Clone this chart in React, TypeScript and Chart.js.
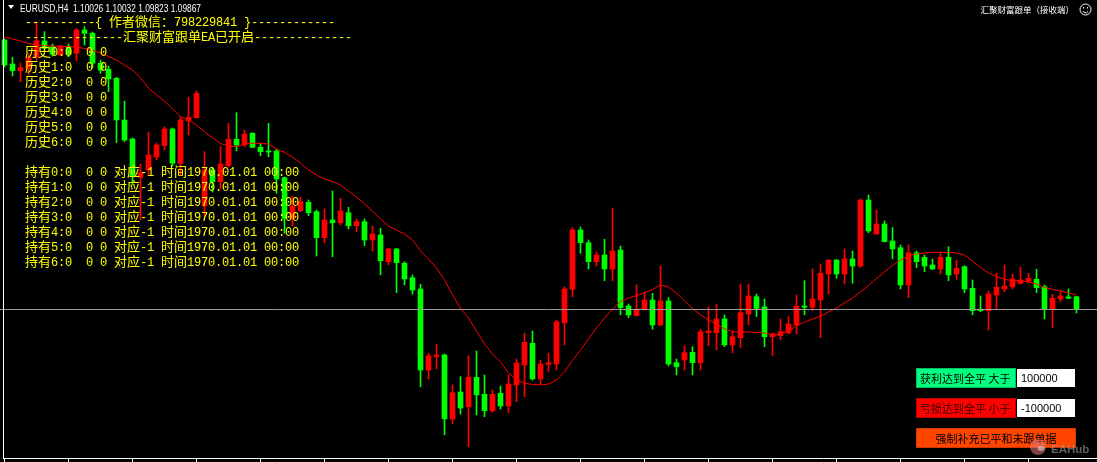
import React, { useEffect, useRef } from "react";
import { Chart, registerables } from "chart.js";

Chart.register(...registerables);

// ---------------- data ----------------
const symbolLabel = "EURUSD,H4";

const opens = [
  1.13236, 1.12936, 1.12852, 1.12882, 1.13020, 1.13224, 1.13152, 1.13049, 1.13152, 1.13070,
  1.13361, 1.13320, 1.12945, 1.12870, 1.12757, 1.12236, 1.11999, 1.11520, 1.11611, 1.11774,
  1.11915, 1.12124, 1.11695, 1.12227, 1.12265, 1.11161, 1.11611, 1.11465, 1.11665, 1.11995,
  1.11924, 1.12070, 1.11895, 1.11849, 1.11849, 1.11515, 1.11007, 1.11102, 1.11207, 1.11090,
  1.10765, 1.10986, 1.10952, 1.11077, 1.10915, 1.10965, 1.10736, 1.10799, 1.10465, 1.10624,
  1.10445, 1.10265, 1.10124, 1.09111, 1.09277, 1.09299, 1.08499, 1.08836, 1.08652, 1.09020,
  1.08807, 1.08602, 1.08820, 1.08661, 1.08924, 1.09174, 1.09445, 1.08999, 1.09180, 1.09186,
  1.09702, 1.10120, 1.10861, 1.10702, 1.10465, 1.10549, 1.10374, 1.10611, 1.09911, 1.09790,
  1.09870, 1.09986, 1.09674, 1.09974, 1.09202, 1.09236, 1.09332, 1.09202, 1.09577, 1.09577,
  1.09749, 1.09424, 1.09515, 1.09811, 1.10027, 1.09902, 1.09527, 1.09540, 1.09577, 1.09674,
  1.09911, 1.09895, 1.09986, 1.10311, 1.10486, 1.10311, 1.10499, 1.10411, 1.11236, 1.10811,
  1.10936, 1.10724, 1.10640, 1.10174, 1.10577, 1.10520, 1.10424, 1.10374, 1.10520, 1.10311,
  1.10402, 1.10132, 1.09870, 1.09852, 1.10049, 1.10124, 1.10152, 1.10195, 1.10224, 1.10245,
  1.10152, 1.09870, 1.09999, 1.10024, 1.10026,
];

const highs = [
  1.13249, 1.13020, 1.12949, 1.13074, 1.13465, 1.13340, 1.13186, 1.13174, 1.13186, 1.13382,
  1.13402, 1.13336, 1.12986, 1.12911, 1.12770, 1.12474, 1.12011, 1.11686, 1.12086, 1.11949,
  1.12152, 1.12136, 1.12277, 1.12520, 1.12599, 1.11840, 1.11636, 1.11902, 1.12195, 1.12327,
  1.12111, 1.12077, 1.11945, 1.12195, 1.11870, 1.11524, 1.11286, 1.11270, 1.11236, 1.11111,
  1.11124, 1.11349, 1.11257, 1.11145, 1.10999, 1.10999, 1.10911, 1.10882, 1.10630, 1.10632,
  1.10465, 1.10299, 1.10182, 1.09320, 1.09436, 1.09311, 1.08924, 1.09027, 1.09290, 1.09349,
  1.09049, 1.08861, 1.08911, 1.09049, 1.09249, 1.09570, 1.09599, 1.09236, 1.09320, 1.09736,
  1.10152, 1.10890, 1.10899, 1.10736, 1.10586, 1.10745, 1.11136, 1.10661, 1.09936, 1.10174,
  1.10090, 1.10070, 1.10411, 1.10015, 1.09249, 1.09415, 1.09402, 1.09620, 1.09902, 1.09936,
  1.09799, 1.09590, 1.10186, 1.10186, 1.10061, 1.09999, 1.09574, 1.09749, 1.09777, 1.10049,
  1.10227, 1.10374, 1.10436, 1.10492, 1.10492, 1.10624, 1.10599, 1.11249, 1.11299, 1.11111,
  1.10974, 1.10890, 1.10674, 1.10674, 1.10599, 1.10549, 1.10499, 1.10582, 1.10652, 1.10486,
  1.10415, 1.10236, 1.10036, 1.10099, 1.10320, 1.10424, 1.10311, 1.10395, 1.10320, 1.10370,
  1.10174, 1.10057, 1.10099, 1.10124, 1.10032,
];

const lows = [
  1.12899, 1.12786, 1.12715, 1.12799, 1.12986, 1.13090, 1.13036, 1.13036, 1.13027, 1.12977,
  1.13174, 1.12886, 1.12820, 1.12590, 1.11952, 1.11965, 1.11424, 1.10986, 1.11549, 1.11736,
  1.11861, 1.11661, 1.11549, 1.12049, 1.12261, 1.11024, 1.11336, 1.11374, 1.11649, 1.11852,
  1.11902, 1.11890, 1.11790, 1.11777, 1.11320, 1.10820, 1.10911, 1.11090, 1.11040, 1.10536,
  1.10702, 1.10527, 1.10924, 1.10874, 1.10840, 1.10665, 1.10599, 1.10299, 1.10424, 1.10077,
  1.10174, 1.10061, 1.08902, 1.08999, 1.09124, 1.08299, 1.08436, 1.08561, 1.08152, 1.08549,
  1.08527, 1.08582, 1.08624, 1.08577, 1.08715, 1.08777, 1.08986, 1.08936, 1.09090, 1.09111,
  1.09424, 1.10027, 1.10570, 1.10374, 1.10411, 1.10227, 1.10227, 1.09799, 1.09765, 1.09786,
  1.09861, 1.09620, 1.09667, 1.09161, 1.09049, 1.09111, 1.09049, 1.09111, 1.09415, 1.09361,
  1.09402, 1.09327, 1.09390, 1.09674, 1.09777, 1.09402, 1.09290, 1.09486, 1.09561, 1.09561,
  1.09799, 1.09852, 1.09515, 1.10061, 1.10257, 1.10186, 1.10195, 1.10395, 1.10827, 1.10805,
  1.10711, 1.10499, 1.10124, 1.10015, 1.10390, 1.10340, 1.10367, 1.10311, 1.10227, 1.10245,
  1.10077, 1.09799, 1.09840, 1.09611, 1.09870, 1.10090, 1.10124, 1.10186, 1.10207, 1.10077,
  1.09749, 1.09640, 1.09965, 1.10005, 1.09823,
];

const closes = [
  1.12924, 1.12852, 1.12890, 1.13015, 1.13227, 1.13132, 1.13057, 1.13161, 1.13057, 1.13361,
  1.13320, 1.12945, 1.12861, 1.12749, 1.12236, 1.11986, 1.11527, 1.11577, 1.11799, 1.11924,
  1.12124, 1.11695, 1.12236, 1.12270, 1.12570, 1.11611, 1.11465, 1.11686, 1.11995, 1.11924,
  1.12061, 1.11895, 1.11840, 1.11836, 1.11499, 1.11007, 1.11161, 1.11215, 1.11077, 1.10765,
  1.10986, 1.10952, 1.11099, 1.10915, 1.10965, 1.10736, 1.10811, 1.10477, 1.10624, 1.10452,
  1.10249, 1.10111, 1.09111, 1.09290, 1.09299, 1.08499, 1.08827, 1.08636, 1.09020, 1.08799,
  1.08602, 1.08807, 1.08661, 1.08936, 1.09199, 1.09457, 1.08999, 1.09186, 1.09202, 1.09715,
  1.10124, 1.10861, 1.10702, 1.10465, 1.10549, 1.10374, 1.10599, 1.09890, 1.09799, 1.09870,
  1.09986, 1.09674, 1.09974, 1.09186, 1.09152, 1.09327, 1.09202, 1.09590, 1.09599, 1.09749,
  1.09424, 1.09527, 1.09827, 1.10036, 1.09882, 1.09527, 1.09561, 1.09590, 1.09686, 1.09911,
  1.09895, 1.09999, 1.10320, 1.10486, 1.10311, 1.10499, 1.10411, 1.11236, 1.10849, 1.10936,
  1.10715, 1.10624, 1.10174, 1.10577, 1.10465, 1.10411, 1.10374, 1.10520, 1.10299, 1.10382,
  1.10124, 1.09852, 1.09852, 1.10061, 1.10145, 1.10161, 1.10249, 1.10236, 1.10257, 1.10140,
  1.09870, 1.10007, 1.10036, 1.10007, 1.09867,
];

const maValues = [
  1.13274, 1.13249, 1.13224, 1.13192, 1.13174, 1.13167, 1.13161, 1.13155, 1.13152, 1.13149,
  1.13130, 1.13105, 1.13074, 1.13030, 1.12986, 1.12924, 1.12861, 1.12761, 1.12636, 1.12549,
  1.12474, 1.12374, 1.12277, 1.12236, 1.12174, 1.12086, 1.12011, 1.11942, 1.11911, 1.11902,
  1.11936, 1.11945, 1.11945, 1.11936, 1.11874, 1.11830, 1.11774, 1.11695, 1.11611, 1.11549,
  1.11499, 1.11467, 1.11424, 1.11349, 1.11274, 1.11186, 1.11099, 1.10999, 1.10911, 1.10861,
  1.10811, 1.10736, 1.10599, 1.10499, 1.10386, 1.10236, 1.10049, 1.09882, 1.09761, 1.09599,
  1.09436, 1.09311, 1.09211, 1.09074, 1.08992, 1.08945, 1.08930, 1.08924, 1.08936, 1.08986,
  1.09086, 1.09230, 1.09361, 1.09499, 1.09636, 1.09761, 1.09874, 1.09967, 1.10011, 1.10042,
  1.10074, 1.10117, 1.10174, 1.10149, 1.10074, 1.09974, 1.09880, 1.09799, 1.09736, 1.09686,
  1.09624, 1.09590, 1.09586, 1.09586, 1.09582, 1.09574, 1.09549, 1.09561, 1.09599, 1.09661,
  1.09711, 1.09749, 1.09780, 1.09836, 1.09886, 1.09949, 1.10011, 1.10086, 1.10167, 1.10255,
  1.10336, 1.10417, 1.10486, 1.10536, 1.10561, 1.10574, 1.10582, 1.10582, 1.10582, 1.10574,
  1.10549, 1.10474, 1.10392, 1.10324, 1.10280, 1.10242, 1.10230, 1.10227, 1.10211, 1.10186,
  1.10142, 1.10117, 1.10102, 1.10074, 1.10049,
];

const textLines = [
  "----------{ 作者微信：798229841 }------------",
  "--------------汇聚财富跟单EA已开启--------------",
  "历史0:0  0 0",
  "历史1:0  0 0",
  "历史2:0  0 0",
  "历史3:0  0 0",
  "历史4:0  0 0",
  "历史5:0  0 0",
  "历史6:0  0 0",
  "",
  "持有0:0  0 0 对应-1 时间1970.01.01 00:00",
  "持有1:0  0 0 对应-1 时间1970.01.01 00:00",
  "持有2:0  0 0 对应-1 时间1970.01.01 00:00",
  "持有3:0  0 0 对应-1 时间1970.01.01 00:00",
  "持有4:0  0 0 对应-1 时间1970.01.01 00:00",
  "持有5:0  0 0 对应-1 时间1970.01.01 00:00",
  "持有6:0  0 0 对应-1 时间1970.01.01 00:00",
];

const eaTitle = "汇聚财富跟单（接收端）";
const profitLabel = "获利达到全平 大于";
const profitValue = "100000";
const lossLabel = "亏损达到全平 小于";
const lossValue = "-100000";
const forceLabel = "强制补充已平和未跟单据";
const watermark = "EAHub";
const timeTickStep = 8;

// ---------------- helpers ----------------
const W = 1097;
const H = 462;

function drawTerminalText(ctx: CanvasRenderingContext2D, text: string, x: number, baseline: number) {
  let cx = x;
  for (const ch of Array.from(text)) {
    const wide = (ch.codePointAt(0) || 0) >= 0x2e80;
    if (ch !== " ") {
      ctx.font = wide ? "13px 'Noto Sans CJK SC'" : "12px 'Liberation Mono'";
      ctx.fillText(ch, cx, baseline);
    }
    cx += wide ? 13 : 7;
  }
}

function drawButton(
  ctx: CanvasRenderingContext2D,
  x: number, y: number, w: number, h: number,
  fill: string, border: string, label: string, color: string, center: boolean
) {
  ctx.fillStyle = fill;
  ctx.fillRect(x, y, w, h);
  ctx.strokeStyle = border;
  ctx.lineWidth = 1;
  ctx.strokeRect(x + 0.5, y + 0.5, w - 1, h - 1);
  ctx.fillStyle = color;
  ctx.font = "11px 'Noto Sans CJK SC'";
  ctx.textBaseline = "middle";
  ctx.textAlign = center ? "center" : "left";
  ctx.fillText(label, center ? x + w / 2 : x + 4, y + h / 2 + 0.5);
  ctx.textAlign = "left";
  ctx.textBaseline = "alphabetic";
}

function drawInput(ctx: CanvasRenderingContext2D, x: number, y: number, w: number, h: number, value: string) {
  ctx.fillStyle = "#ffffff";
  ctx.fillRect(x, y, w, h);
  ctx.fillStyle = "#000000";
  ctx.font = "11px 'Liberation Sans'";
  ctx.textBaseline = "middle";
  ctx.fillText(value, x + 4, y + h / 2 + 0.5);
  ctx.textBaseline = "alphabetic";
}

const overlayPlugin = {
  id: "mt4Overlay",
  beforeDraw(chart: any) {
    const ctx = chart.ctx as CanvasRenderingContext2D;
    ctx.save();
    ctx.fillStyle = "#000000";
    ctx.fillRect(0, 0, chart.width, chart.height);
    ctx.restore();
  },
  afterDraw(chart: any) {
    const ctx = chart.ctx as CanvasRenderingContext2D;
    const xs = chart.scales.x;
    const ys = chart.scales.y;
    const n = closes.length;
    ctx.save();

    // bid line
    const bid = closes[n - 1];
    const by = Math.floor(ys.getPixelForValue(bid)) + 0.5;
    ctx.strokeStyle = "#9c9c9c";
    ctx.lineWidth = 1;
    ctx.beginPath();
    ctx.moveTo(0, by);
    ctx.lineTo(W, by);
    ctx.stroke();

    // frame + time ticks
    ctx.strokeStyle = "#ffffff";
    ctx.beginPath();
    ctx.moveTo(3.5, 0);
    ctx.lineTo(3.5, 458.5);
    ctx.moveTo(3, 458.5);
    ctx.lineTo(W, 458.5);
    for (let k = 0; k < n; k += timeTickStep) {
      const tx = Math.floor(xs.getPixelForValue(k)) + 0.5;
      ctx.moveTo(tx, 458);
      ctx.lineTo(tx, H);
    }
    ctx.stroke();

    // header (symbol + last bar OHLC)
    ctx.fillStyle = "#ffffff";
    ctx.beginPath();
    ctx.moveTo(8, 5);
    ctx.lineTo(14, 5);
    ctx.lineTo(11, 9);
    ctx.closePath();
    ctx.fill();
    const header = `${symbolLabel}  ${[opens[n - 1], highs[n - 1], lows[n - 1], closes[n - 1]]
      .map((v) => v.toFixed(5))
      .join(" ")}`;
    ctx.font = "10px 'Liberation Sans'";
    const hw = ctx.measureText(header).width;
    ctx.save();
    ctx.translate(20, 11.5);
    ctx.scale(181 / hw, 1);
    ctx.fillText(header, 0, 0);
    ctx.restore();

    // top-right EA title + smiley
    ctx.font = "8.5px 'Noto Sans CJK SC'";
    ctx.textAlign = "right";
    ctx.fillText(eaTitle, 1074, 12.5);
    ctx.textAlign = "left";
    ctx.strokeStyle = "#ffffff";
    ctx.lineWidth = 1;
    ctx.beginPath();
    ctx.arc(1085.5, 9.5, 5.5, 0, Math.PI * 2);
    ctx.stroke();
    ctx.beginPath();
    ctx.arc(1085.5, 9.8, 3, 0.15 * Math.PI, 0.85 * Math.PI);
    ctx.stroke();
    ctx.fillRect(1083, 7, 1, 1.5);
    ctx.fillRect(1087, 7, 1, 1.5);

    // yellow terminal text
    ctx.fillStyle = "#ffff00";
    textLines.forEach((line, i) => {
      if (line) drawTerminalText(ctx, line, 25, 26 + 15 * i);
    });

    // control panel
    drawButton(ctx, 916, 368, 100, 20, "#00ff7f", "#00c060", profitLabel, "#000000", false);
    drawInput(ctx, 1017, 369, 58, 18, profitValue);
    drawButton(ctx, 916, 398, 100, 20, "#ff0000", "#c00000", lossLabel, "#2a0000", false);
    drawInput(ctx, 1017, 399, 58, 18, lossValue);
    drawButton(ctx, 916, 428, 160, 20, "#ff4500", "#d03800", forceLabel, "#000000", true);

    // watermark
    ctx.fillStyle = "rgba(225,120,120,0.55)";
    ctx.beginPath();
    ctx.arc(1038, 447, 8, 0, Math.PI * 2);
    ctx.fill();
    ctx.fillStyle = "rgba(255,255,255,0.45)";
    ctx.beginPath();
    ctx.ellipse(1041, 448.5, 3.5, 2.5, 0, 0, Math.PI * 2);
    ctx.fill();
    ctx.fillStyle = "rgba(160,160,160,0.6)";
    ctx.font = "bold 11.5px 'Liberation Sans'";
    ctx.fillText(watermark, 1051, 453);

    ctx.restore();
  },
};

export default function App() {
  const canvasRef = useRef<HTMLCanvasElement | null>(null);

  useEffect(() => {
    document.body.style.margin = "0";
    document.body.style.background = "#000000";
    const canvas = canvasRef.current;
    if (!canvas) return;
    const idx = opens.map((_, i) => i);
    const colors = idx.map((i) => (closes[i] >= opens[i] ? "#ff0000" : "#00ff00"));
    const n = opens.length;
    const candleSpacing = 8;
    const firstCenter = 4.5;

    const chart = new Chart(canvas, {
      type: "bar",
      data: {
        datasets: [
          {
            type: "line",
            label: "MA",
            data: idx.map((i) => ({ x: i, y: maValues[i] })),
            borderColor: "#ff0000",
            borderWidth: 1,
            pointRadius: 0,
            tension: 0,
            fill: false,
            order: 0,
          } as any,
          {
            type: "bar",
            label: "body",
            data: idx.map((i) => ({ x: i, y: [opens[i], closes[i]] })),
            backgroundColor: colors,
            borderWidth: 0,
            barThickness: 5,
            minBarLength: 1,
            grouped: false,
            order: 1,
          } as any,
          {
            type: "bar",
            label: "wick",
            data: idx.map((i) => ({ x: i, y: [lows[i], highs[i]] })),
            backgroundColor: colors,
            borderWidth: 0,
            barThickness: 1,
            minBarLength: 1,
            grouped: false,
            order: 2,
          } as any,
        ],
      },
      options: {
        responsive: false,
        animation: false,
        events: [],
        layout: { padding: 0 },
        scales: {
          x: {
            type: "linear",
            display: false,
            offset: false,
            min: -firstCenter / candleSpacing,
            max: (W - firstCenter) / candleSpacing,
          },
          y: {
            type: "linear",
            display: false,
            min: 1.13736 - H / 8000,
            max: 1.13736,
          },
        },
        plugins: {
          legend: { display: false },
          tooltip: { enabled: false },
        },
      } as any,
      plugins: [overlayPlugin as any],
    });
    void n;
    return () => chart.destroy();
  }, []);

  return (
    <div style={{ position: "fixed", left: 0, top: 0, width: W, height: H, background: "#000" }}>
      <canvas ref={canvasRef} width={W} height={H} style={{ display: "block", width: W, height: H }} />
    </div>
  );
}
